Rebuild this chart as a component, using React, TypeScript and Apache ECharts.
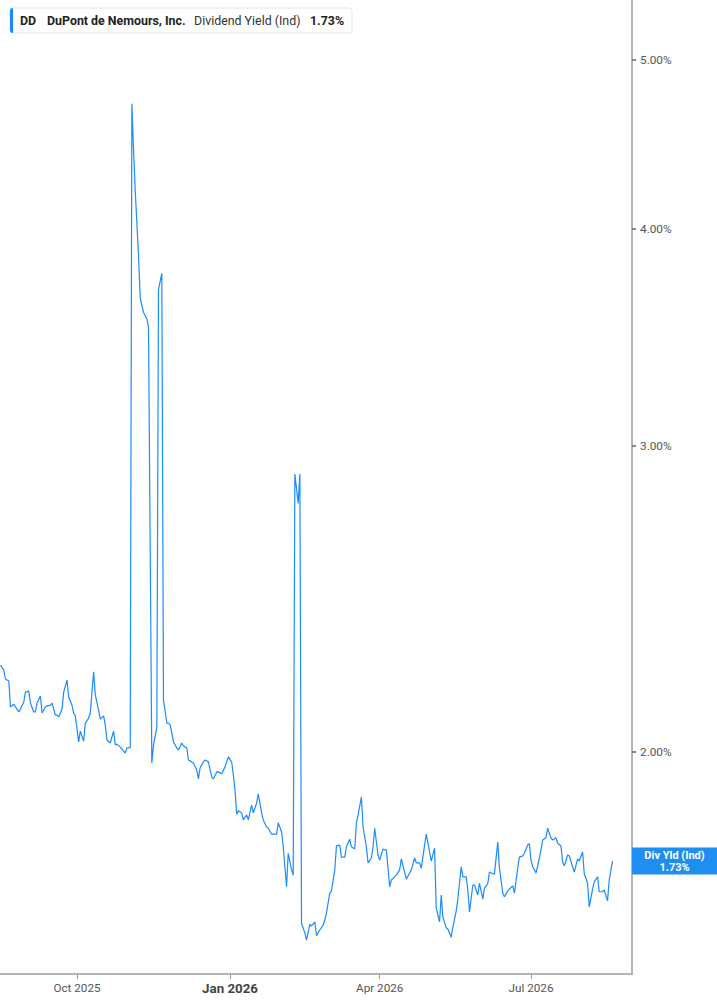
import React, { useEffect, useRef } from "react";
import * as echarts from "echarts";

const dates = [
  "2025-08-16","2025-08-18","2025-08-19","2025-08-21","2025-08-22","2025-08-24","2025-08-25","2025-08-27","2025-08-28","2025-08-30",
  "2025-08-31","2025-09-02","2025-09-03","2025-09-05","2025-09-06","2025-09-07","2025-09-09","2025-09-10","2025-09-12","2025-09-13",
  "2025-09-15","2025-09-16","2025-09-18","2025-09-19","2025-09-20","2025-09-22","2025-09-23","2025-09-25","2025-09-26","2025-09-28",
  "2025-09-29","2025-09-30","2025-10-02","2025-10-03","2025-10-05","2025-10-06","2025-10-08","2025-10-09","2025-10-11","2025-10-12",
  "2025-10-14","2025-10-15","2025-10-17","2025-10-18","2025-10-19","2025-10-21","2025-10-23","2025-10-24","2025-10-25","2025-10-27",
  "2025-10-28","2025-10-30","2025-10-31","2025-11-02","2025-11-03","2025-11-04","2025-11-05","2025-11-07","2025-11-08","2025-11-10",
  "2025-11-12","2025-11-13","2025-11-15","2025-11-16","2025-11-18","2025-11-19","2025-11-21","2025-11-22","2025-11-24","2025-11-25",
  "2025-11-26","2025-11-27","2025-11-28","2025-11-30","2025-12-01","2025-12-03","2025-12-04","2025-12-06","2025-12-07","2025-12-09",
  "2025-12-10","2025-12-12","2025-12-13","2025-12-14","2025-12-16","2025-12-17","2025-12-19","2025-12-21","2025-12-22","2025-12-24",
  "2025-12-25","2025-12-27","2025-12-29","2025-12-31","2026-01-02","2026-01-03","2026-01-04","2026-01-05","2026-01-06","2026-01-08",
  "2026-01-09","2026-01-11","2026-01-12","2026-01-14","2026-01-15","2026-01-17","2026-01-18","2026-01-20","2026-01-21","2026-01-23",
  "2026-01-24","2026-01-26","2026-01-27","2026-01-29","2026-01-30","2026-02-01","2026-02-02","2026-02-04","2026-02-05","2026-02-07",
  "2026-02-08","2026-02-09","2026-02-11","2026-02-12","2026-02-13","2026-02-15","2026-02-16","2026-02-18","2026-02-19","2026-02-21",
  "2026-02-22","2026-02-24","2026-02-26","2026-02-27","2026-02-28","2026-03-02","2026-03-03","2026-03-05","2026-03-06","2026-03-08",
  "2026-03-09","2026-03-11","2026-03-12","2026-03-14","2026-03-15","2026-03-17","2026-03-18","2026-03-19","2026-03-21","2026-03-22",
  "2026-03-24","2026-03-25","2026-03-27","2026-03-28","2026-03-29","2026-03-31","2026-04-01","2026-04-03","2026-04-04","2026-04-05",
  "2026-04-07","2026-04-08","2026-04-10","2026-04-11","2026-04-13","2026-04-14","2026-04-16","2026-04-17","2026-04-19","2026-04-20",
  "2026-04-22","2026-04-23","2026-04-25","2026-04-26","2026-04-28","2026-04-29","2026-05-01","2026-05-02","2026-05-04","2026-05-05",
  "2026-05-07","2026-05-08","2026-05-09","2026-05-11","2026-05-12","2026-05-14","2026-05-15","2026-05-17","2026-05-18","2026-05-20",
  "2026-05-21","2026-05-23","2026-05-24","2026-05-25","2026-05-27","2026-05-28","2026-05-30","2026-05-31","2026-06-02","2026-06-03",
  "2026-06-05","2026-06-06","2026-06-08","2026-06-09","2026-06-11","2026-06-12","2026-06-14","2026-06-15","2026-06-17","2026-06-18",
  "2026-06-20","2026-06-21","2026-06-23","2026-06-24","2026-06-26","2026-06-27","2026-06-29","2026-06-30","2026-07-01","2026-07-02",
  "2026-07-04","2026-07-05","2026-07-07","2026-07-08","2026-07-10","2026-07-11","2026-07-13","2026-07-14","2026-07-16","2026-07-17",
  "2026-07-19","2026-07-20","2026-07-21","2026-07-23","2026-07-24","2026-07-26","2026-07-27","2026-07-29","2026-07-30","2026-08-01",
  "2026-08-02","2026-08-04","2026-08-05","2026-08-07","2026-08-08","2026-08-10","2026-08-11","2026-08-13","2026-08-14","2026-08-16",
  "2026-08-17","2026-08-19"
];

const yields = [
  2.244,2.229,2.203,2.197,2.123,2.131,2.123,2.109,2.117,2.137,
  2.165,2.168,2.134,2.109,2.109,2.134,2.154,2.106,2.123,2.126,
  2.128,2.134,2.100,2.100,2.095,2.117,2.165,2.200,2.151,2.128,
  2.106,2.098,2.027,2.056,2.029,2.078,2.092,2.106,2.224,2.157,
  2.114,2.089,2.098,2.073,2.032,2.024,2.056,2.019,2.021,2.013,
  2.008,1.997,2.011,2.011,4.72,4.44,4.21,3.86,3.65,3.58,
  3.55,3.51,1.971,2.019,2.067,3.69,3.77,2.143,2.078,2.078,
  2.073,2.051,2.027,2.011,2.005,2.024,2.016,2.011,1.979,1.974,
  1.971,1.953,1.930,1.958,1.974,1.979,1.974,1.935,1.930,1.948,
  1.948,1.943,1.961,1.987,1.974,1.940,1.902,1.842,1.850,1.845,
  1.828,1.840,1.828,1.864,1.845,1.869,1.892,1.845,1.828,1.811,
  1.808,1.794,1.794,1.794,1.821,1.799,1.764,1.673,1.749,1.711,
  1.699,2.89,2.78,2.89,1.594,1.574,1.559,1.592,1.588,1.597,
  1.568,1.580,1.590,1.601,1.616,1.659,1.664,1.711,1.766,1.768,
  1.740,1.740,1.764,1.782,1.764,1.759,1.821,1.840,1.884,1.811,
  1.764,1.727,1.738,1.764,1.808,1.745,1.733,1.759,1.757,1.757,
  1.673,1.688,1.695,1.699,1.711,1.736,1.706,1.690,1.704,1.711,
  1.738,1.727,1.727,1.715,1.768,1.794,1.752,1.731,1.761,1.627,
  1.597,1.655,1.607,1.584,1.582,1.565,1.586,1.620,1.646,1.718,
  1.695,1.695,1.666,1.618,1.677,1.677,1.655,1.681,1.646,1.670,
  1.680,1.706,1.702,1.702,1.775,1.715,1.659,1.651,1.664,1.668,
  1.675,1.659,1.715,1.740,1.743,1.749,1.768,1.771,1.733,1.718,
  1.704,1.720,1.757,1.780,1.785,1.808,1.785,1.780,1.785,1.773,
  1.766,1.729,1.720,1.745,1.743,1.718,1.706,1.736,1.731,1.752,
  1.702,1.681,1.629,1.668,1.684,1.695,1.662,1.662,1.666,1.642,
  1.688,1.731
];

const yTickValues = [2, 3, 4, 5];
const xTickDates = ["2025-10-01", "2026-01-01", "2026-04-01", "2026-07-01"];
const monthNames = ["Jan","Feb","Mar","Apr","May","Jun","Jul","Aug","Sep","Oct","Nov","Dec"];

const ticker = "DD";
const company = "DuPont de Nemours, Inc.";
const metric = "Dividend Yield (Ind)";
const badgeTitle = "Div Yld (Ind)";

const X_MIN = "2025-08-15T17:00:00";
const X_MAX = "2026-08-30T17:00:00";
const Y_MIN_PCT = 1.4905;
const Y_MAX_PCT = 5.415;

const BLUE = "#1a8cff";
const FONT = "Roboto, 'Noto Sans', sans-serif";

const toTs = (s: string) => new Date(s.length === 10 ? s + "T00:00:00" : s).getTime();

export default function App() {
  const ref = useRef<HTMLDivElement>(null);

  useEffect(() => {
    if (!ref.current) return;
    const chart = echarts.init(ref.current, null, { renderer: "svg" });
    const last = yields[yields.length - 1];
    const seriesData = dates.map((d, i) => [toTs(d), Math.log(yields[i])]);
    const xTicks = xTickDates.map(toTs);
    const yTicks = yTickValues.map((v) => Math.log(v));

    chart.setOption({
      animation: false,
      backgroundColor: "#ffffff",
      textStyle: { fontFamily: FONT },
      grid: { left: 0, right: 85, top: 0, bottom: 31, containLabel: false },
      xAxis: {
        type: "value",
        min: toTs(X_MIN),
        max: toTs(X_MAX),
        axisLine: { show: true, lineStyle: { color: "#b4b4b4", width: 2 } },
        axisTick: { show: true, length: 5, lineStyle: { color: "#999" }, customValues: xTicks },
        splitLine: { show: false },
        axisLabel: {
          customValues: xTicks,
          margin: 8,
          color: "#555",
          fontSize: 11.7,
          fontFamily: FONT,
          formatter: (val: number) => {
            const d = new Date(val);
            const label = monthNames[d.getMonth()] + " " + d.getFullYear();
            return d.getMonth() === 0 ? "{b|" + label + "}" : label;
          },
          rich: { b: { fontWeight: "bold", fontSize: 13.3, color: "#444", fontFamily: FONT } },
        },
      },
      yAxis: {
        type: "value",
        position: "right",
        min: Math.log(Y_MIN_PCT),
        max: Math.log(Y_MAX_PCT),
        axisLine: { show: true, lineStyle: { color: "#b4b4b4", width: 2 } },
        axisTick: { show: true, length: 4, lineStyle: { color: "#666", width: 1.5 }, customValues: yTicks },
        splitLine: { show: false },
        axisLabel: {
          customValues: yTicks,
          margin: 8,
          color: "#555",
          fontSize: 11.8,
          fontFamily: FONT,
          formatter: (v: number) => Math.exp(v).toFixed(2) + "%",
        },
      },
      series: [
        {
          type: "line",
          data: seriesData,
          showSymbol: false,
          symbol: "none",
          lineStyle: { color: BLUE, width: 1.2 },
          z: 3,
        },
      ],
    });

    const yPix = chart.convertToPixel({ yAxisIndex: 0 }, Math.log(last)) as number;
    const xRight = chart.convertToPixel({ xAxisIndex: 0 }, toTs(X_MAX)) as number;
    const xMid = xRight + (717 - xRight) / 2;

    chart.setOption({
      graphic: [
        {
          type: "rect",
          shape: { x: 10, y: 8, width: 342, height: 25, r: 3 },
          style: { fill: "#ffffff", stroke: "#e4e4e4", lineWidth: 1 },
          z: 10,
        },
        {
          type: "rect",
          shape: { x: 10, y: 8, width: 3, height: 25, r: [3, 0, 0, 3] },
          style: { fill: BLUE },
          z: 11,
        },
        {
          type: "text",
          x: 20, y: 20.5, z: 11,
          style: { text: ticker, fill: "#222", font: "bold 12.4px " + FONT, verticalAlign: "middle" },
        },
        {
          type: "text",
          x: 47, y: 20.5, z: 11,
          style: { text: company, fill: "#222", font: "bold 12.4px " + FONT, verticalAlign: "middle" },
        },
        {
          type: "text",
          x: 194, y: 20.5, z: 11,
          style: { text: metric, fill: "#333", font: "12.4px " + FONT, verticalAlign: "middle" },
        },
        {
          type: "text",
          x: 310, y: 20.5, z: 11,
          style: { text: last.toFixed(2) + "%", fill: "#222", font: "bold 12.4px " + FONT, verticalAlign: "middle" },
        },
        {
          type: "rect",
          shape: { x: xRight, y: yPix - 13.5, width: 717 - xRight, height: 27 },
          style: { fill: "#1f8ef1" },
          z: 10,
        },
        {
          type: "text",
          x: xMid, y: yPix - 0.5, z: 11,
          style: { text: badgeTitle, fill: "#fff", font: "bold 11px " + FONT, align: "center", verticalAlign: "bottom" },
        },
        {
          type: "text",
          x: xMid, y: yPix + 0.5, z: 11,
          style: { text: last.toFixed(2) + "%", fill: "#fff", font: "bold 11px " + FONT, align: "center", verticalAlign: "top" },
        },
      ],
    });

    return () => chart.dispose();
  }, []);

  return (
    <div
      ref={ref}
      style={{ position: "fixed", left: 0, top: 0, width: 717, height: 1005, background: "#fff" }}
    />
  );
}
